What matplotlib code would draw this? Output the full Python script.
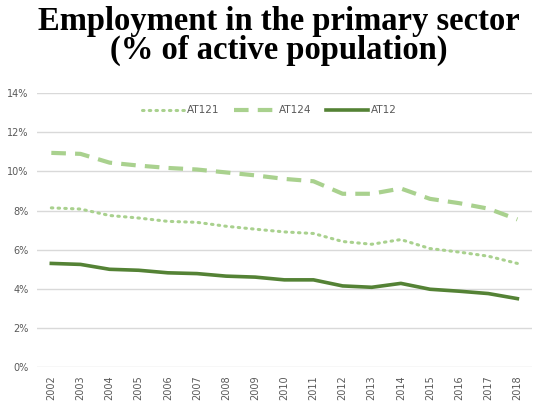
import matplotlib.pyplot as plt
from matplotlib.ticker import FuncFormatter

years = list(range(2002, 2019))
at121 = [8.14, 8.08, 7.75, 7.62, 7.45, 7.40, 7.20, 7.05, 6.91, 6.83, 6.42, 6.28, 6.52, 6.06, 5.88, 5.67, 5.30]
at124 = [10.95, 10.90, 10.45, 10.30, 10.18, 10.10, 9.95, 9.80, 9.62, 9.50, 8.86, 8.86, 9.13, 8.60, 8.38, 8.10, 7.55]
at12 = [5.30, 5.25, 5.00, 4.95, 4.82, 4.78, 4.65, 4.60, 4.46, 4.46, 4.15, 4.08, 4.28, 3.98, 3.88, 3.76, 3.50]

light = "#a9d18e"
dark = "#548235"
grey = "#595959"

fig = plt.figure(figsize=(5.57, 4.07), dpi=100)
ax = fig.add_axes([0.066, 0.098, 0.889, 0.673])

ax.plot(years, at121, color=light, lw=2.2, linestyle=(0, (0.5, 1.7)),
        dash_capstyle="round", label="AT121")
ax.plot(years, at124, color=light, lw=3, linestyle=(0, (3.5, 2.2)), label="AT124")
ax.plot(years, at12, color=dark, lw=2.6, label="AT12")

ax.set_ylim(0, 14)
ax.set_yticks(range(0, 15, 2))
ax.yaxis.set_major_formatter(FuncFormatter(lambda v, p: f"{v:.0f}%"))
ax.set_xlim(2001.5, 2018.5)
ax.set_xticks(years)
ax.set_xticklabels([str(y) for y in years], rotation=90)
ax.tick_params(length=0, labelsize=7, colors=grey, pad=6)
ax.grid(axis="y", color="#d9d9d9", lw=1)
ax.set_axisbelow(True)
for s in ax.spines.values():
    s.set_visible(False)

ax.legend(loc="upper center", bbox_to_anchor=(0.47, 0.99), ncol=3, frameon=False,
          fontsize=7.5, labelcolor=grey, handlelength=4.0, columnspacing=1.4,
          handletextpad=0.3)

fig.text(0.5, 0.985, "Employment in the primary sector\n(% of active population)",
         ha="center", va="top", family="Liberation Serif", weight="bold",
         fontsize=23.5, linespacing=0.92)

fig.savefig("out.png", dpi=100)
